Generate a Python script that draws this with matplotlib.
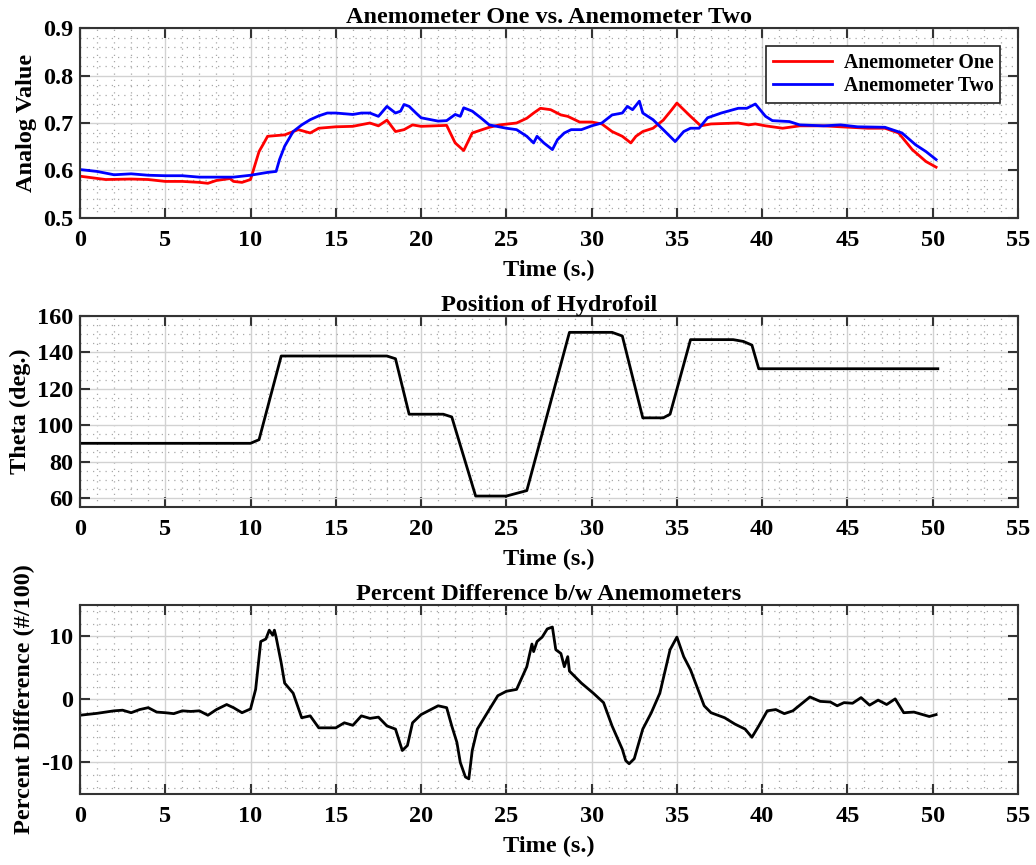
"""Anemometer comparison and hydrofoil position vs time"""
import matplotlib
matplotlib.use("Agg")
import matplotlib.pyplot as plt
from matplotlib.ticker import MultipleLocator

# anemometer readings (time in s, analog value)
t_one = [0, 1.5, 3, 4, 5, 6, 7, 7.5, 8, 8.8, 9, 9.5, 10, 10.5, 10.74, 11, 12, 12.8, 13.5,
         14, 15, 16, 17, 17.5, 18, 18.5, 19, 19.5, 20, 21.5, 22, 22.5, 23, 24, 24.6, 25.6,
         26.2, 26.6, 27.0, 27.6, 28.2, 28.6, 29.3, 30.0, 30.6, 31.2, 31.8, 32.3, 32.6, 33.0,
         33.6, 34.2, 34.7, 35.0, 35.4, 35.8, 36.4, 37.0, 38.6, 39.2, 39.6, 40.2, 41.2, 42.2,
         43.6, 44.6, 46.2, 47.2, 48.0, 48.8, 49.6, 50.2]
v_one = [0.588, 0.581, 0.582, 0.581, 0.577, 0.577, 0.575, 0.573, 0.579, 0.583, 0.577, 0.575,
         0.581, 0.640, 0.655, 0.672, 0.675, 0.686, 0.679, 0.689, 0.692, 0.693, 0.700, 0.694,
         0.706, 0.682, 0.686, 0.696, 0.693, 0.695, 0.658, 0.642, 0.679, 0.691, 0.696, 0.700,
         0.710, 0.721, 0.731, 0.728, 0.717, 0.714, 0.702, 0.702, 0.698, 0.682, 0.672, 0.658,
         0.672, 0.682, 0.689, 0.706, 0.728, 0.742, 0.728, 0.714, 0.694, 0.698, 0.700, 0.696,
         0.698, 0.694, 0.689, 0.694, 0.694, 0.692, 0.689, 0.689, 0.679, 0.644, 0.619, 0.607]

t_two = [0, 1, 2, 3, 4, 5, 6, 7, 8, 9, 10, 10.5, 11, 11.5, 11.7, 12, 12.5, 13, 13.5, 14,
         14.5, 15, 16, 16.5, 17, 17.5, 18, 18.5, 18.8, 19, 19.3, 19.7, 20, 21, 21.5, 22,
         22.3, 22.5, 23, 23.5, 24, 25, 25.6, 26.2, 26.6, 26.8, 27.2, 27.7, 28.0, 28.4,
         28.8, 29.4, 30.0, 30.6, 31.2, 31.8, 32.1, 32.4, 32.8, 33.0, 33.6, 34.2, 34.9,
         35.4, 35.8, 36.3, 36.8, 37.6, 38.6, 39.1, 39.6, 40.2, 40.6, 41.6, 42.2, 43.6,
         44.6, 45.6, 47.2, 48.2, 49.0, 49.6, 50.2]
v_two = [0.602, 0.598, 0.591, 0.593, 0.590, 0.589, 0.589, 0.586, 0.586, 0.586, 0.590, 0.593,
         0.596, 0.598, 0.623, 0.651, 0.682, 0.696, 0.707, 0.715, 0.721, 0.721, 0.718, 0.721,
         0.721, 0.714, 0.735, 0.721, 0.725, 0.739, 0.735, 0.721, 0.711, 0.704, 0.705, 0.718,
         0.714, 0.732, 0.725, 0.711, 0.696, 0.689, 0.686, 0.672, 0.658, 0.672, 0.658, 0.644,
         0.665, 0.679, 0.686, 0.686, 0.694, 0.700, 0.717, 0.721, 0.735, 0.728, 0.746, 0.721,
         0.707, 0.686, 0.661, 0.682, 0.689, 0.689, 0.711, 0.721, 0.731, 0.731, 0.740, 0.714,
         0.705, 0.703, 0.696, 0.694, 0.696, 0.692, 0.691, 0.679, 0.654, 0.640, 0.623]

# hydrofoil angle (deg)
t_theta = [0, 10, 10.5, 11.8, 18, 18.5, 19.3, 21.3, 21.8, 23.2, 25, 26.2, 28.7, 31.2, 31.8,
           33, 34.2, 34.6, 35.8, 38.3, 38.9, 39.4, 39.8, 50.3]
theta = [90, 90, 92, 138, 138, 136.5, 106, 106, 104.5, 61, 61, 64, 151, 151, 149, 104, 104,
         106, 147, 147, 146, 144, 131, 131]

# percent difference between the two anemometers
t_pd = [0, 1, 2, 2.5, 3, 3.5, 4, 4.5, 5, 5.5, 6, 6.5, 7, 7.5, 8, 8.6, 9, 9.5, 10, 10.3,
        10.6, 10.9, 11.1, 11.3, 11.4, 11.5, 11.8, 12, 12.5, 13, 13.5, 14, 15, 15.5, 16, 16.5,
        17, 17.5, 18, 18.5, 18.9, 19.2, 19.5, 20, 21, 21.5, 21.8, 22.1, 22.3, 22.6, 22.8, 23,
        23.3, 24, 24.5, 25, 25.6, 26.2, 26.5, 26.6, 26.8, 27.1, 27.4, 27.7, 27.9, 28.2, 28.4,
        28.6, 28.7, 29.4, 30.1, 30.7, 31.2, 31.8, 32.0, 32.2, 32.5, 33.0, 33.5, 34.0, 34.6,
        35.0, 35.4, 35.8, 36.6, 37.0, 37.8, 38.4, 39.0, 39.4, 39.8, 40.3, 40.8, 41.3, 41.8,
        42.8, 43.4, 44.0, 44.4, 44.8, 45.3, 45.8, 46.3, 46.8, 47.3, 47.8, 48.3, 48.9, 49.8,
        50.2]
pct_diff = [-2.5, -2.2, -1.8, -1.7, -2.1, -1.6, -1.3, -2.0, -2.1, -2.25, -1.8, -1.9, -1.8,
            -2.5, -1.6, -0.8, -1.3, -2.1, -1.5, 1.6, 9.2, 9.6, 11.0, 10.2, 11.0, 9.9, 5.8, 2.6,
            1.0, -2.9, -2.6, -4.5, -4.5, -3.7, -4.1, -2.6, -3.0, -2.8, -4.2, -4.7, -8.1, -7.3,
            -3.7, -2.4, -1.0, -1.3, -4.2, -6.8, -10.0, -12.3, -12.6, -8.1, -4.7, -1.6, 0.6,
            1.3, 1.6, 5.2, 8.8, 7.6, 9.2, 9.9, 11.2, 11.5, 7.9, 7.3, 5.2, 6.8, 4.5, 2.6, 1.0,
            -0.5, -4.2, -7.9, -9.7, -10.2, -9.4, -4.7, -2.1, 1.0, 7.9, 9.9, 6.8, 4.7, -1.0,
            -2.1, -2.9, -3.9, -4.7, -6.0, -4.2, -1.8, -1.6, -2.25, -1.8, 0.4, -0.3, -0.4, -1.0,
            -0.5, -0.6, 0.3, -0.9, -0.1, -0.8, 0.1, -2.1, -2.0, -2.7, -2.4]

plt.rcParams['font.family'] = ['Liberation Serif', 'DejaVu Serif']
plt.rcParams['font.weight'] = 'bold'
plt.rcParams['axes.titleweight'] = 'bold'
plt.rcParams['axes.labelweight'] = 'bold'
plt.rcParams['axes.unicode_minus'] = False

FS = 17.5


def style_axes(ax, ylim, ymajor, yminor):
    """MATLAB-like box with major + dotted minor grid"""
    ax.set_xlim(0, 55)
    ax.set_ylim(*ylim)
    ax.xaxis.set_major_locator(MultipleLocator(5))
    ax.xaxis.set_minor_locator(MultipleLocator(1))
    ax.yaxis.set_major_locator(MultipleLocator(ymajor))
    ax.yaxis.set_minor_locator(MultipleLocator(yminor))
    ax.grid(which='major', color='#d2d2d2', lw=1.0, ls='-')
    ax.grid(which='minor', color='#a8a8a8', lw=0.9, ls=(0, (1, 4)))
    ax.set_axisbelow(True)
    ax.tick_params(which='major', direction='in', length=7, width=1.5, color='#333333',
                   top=True, right=True, labelsize=FS, pad=5)
    ax.tick_params(axis='x', which='major', pad=9)
    ax.tick_params(which='minor', length=0, top=True, right=True)
    for sp in ax.spines.values():
        sp.set_color('#333333')
        sp.set_linewidth(1.5)
    ax.set_xlabel("Time (s.)", fontsize=FS, labelpad=6)


fig = plt.figure(figsize=(10.36, 8.65), dpi=100)
ax1 = fig.add_axes([0.0772, 0.748, 0.9054, 0.2196])
ax2 = fig.add_axes([0.0772, 0.4139, 0.9054, 0.2208])
ax3 = fig.add_axes([0.0772, 0.0821, 0.9054, 0.2185])

ax1.plot(t_one, v_one, color='#ff0000', lw=2.0, label="Anemometer One")
ax1.plot(t_two, v_two, color='#0000ff', lw=2.0, label="Anemometer Two")
style_axes(ax1, (0.5, 0.9), 0.1, 0.02)
ax1.set_title("Anemometer One vs. Anemometer Two", fontsize=FS, pad=3)
ax1.set_ylabel("Analog Value", fontsize=FS, labelpad=4)
leg = ax1.legend(loc='upper right', fontsize=14.2, fancybox=False, framealpha=1,
                 edgecolor='#222222', borderaxespad=0.9, handlelength=3.0,
                 labelspacing=0.15, borderpad=0.35, handletextpad=0.6)
leg.get_frame().set_linewidth(1.2)

ax2.plot(t_theta, theta, color='black', lw=2.0)
style_axes(ax2, (55, 160), 20, 5)
ax2.set_title("Position of Hydrofoil", fontsize=FS, pad=3)
ax2.set_ylabel("Theta (deg.)", fontsize=FS, labelpad=4)

ax3.plot(t_pd, pct_diff, color='black', lw=2.0)
style_axes(ax3, (-15, 15), 10, 2)
ax3.set_title("Percent Difference b/w Anemometers", fontsize=FS, pad=3)
ax3.set_ylabel("Percent Difference (#/100)", fontsize=FS, labelpad=4)

fig.savefig("out.png", dpi=100)
